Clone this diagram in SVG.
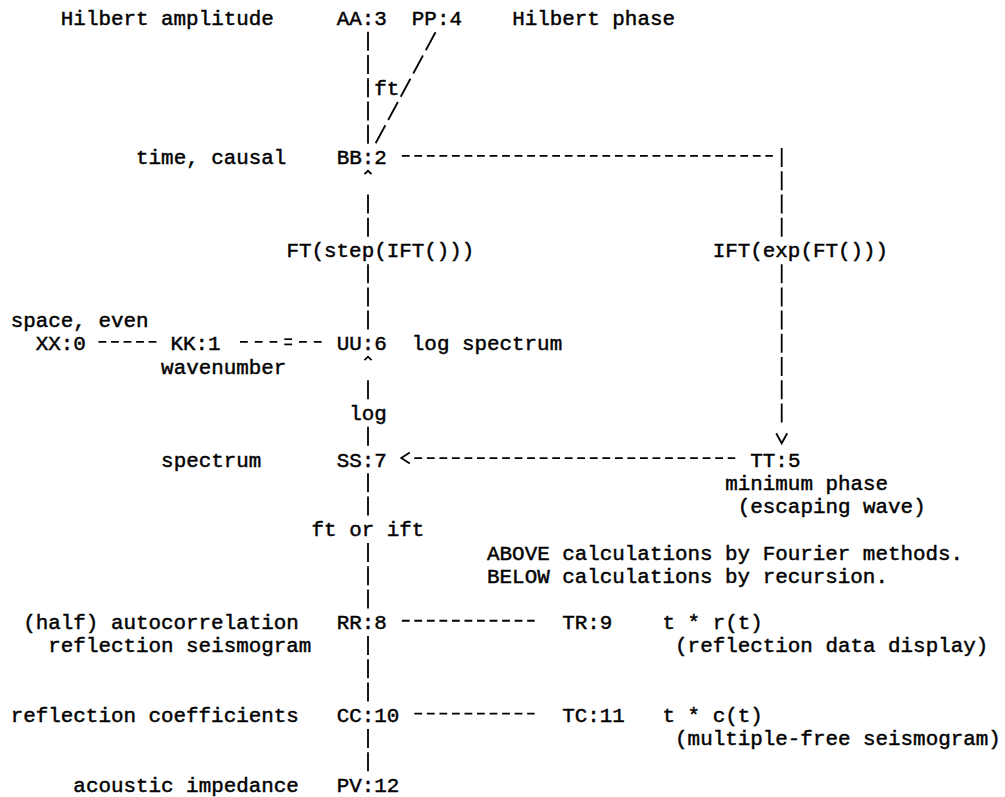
<svg xmlns="http://www.w3.org/2000/svg" width="1005" height="797" viewBox="0 0 1005 797">
<style>
text{font-family:"Liberation Mono","DejaVu Sans Mono",monospace;font-size:20.89px;fill:#000;stroke:#000;stroke-width:0.45}
.vd{stroke:#000;stroke-width:1.8;fill:none;stroke-dasharray:19 4.24}
.hd{stroke:#000;stroke-width:1.8;fill:none;stroke-dasharray:7.8 4.736}
.hw{stroke:#000;stroke-width:1.8;fill:none;stroke-dasharray:7.8 6.96}
.sl{stroke:#000;stroke-width:1.8;fill:none;stroke-dasharray:20.45 5.955}
.ah{stroke:#000;stroke-width:1.8;fill:none;stroke-linejoin:miter}
.eq{stroke:#000;stroke-width:1.7;fill:none}
</style>
<rect width="1005" height="797" fill="#fff"/>
<g id="connectors">
<line class="vd" x1="368" y1="31.74" x2="368" y2="143.7"/>
<line class="sl" x1="435.5" y1="32.24" x2="375.65" y2="143.2"/>
<text x="374.24" y="94.72">ft</text>
<line class="hd" x1="401.81" y1="155.94" x2="772.85" y2="155.94"/>
<line class="vd" x1="781.7" y1="147.94" x2="781.7" y2="236.66"/>
<text x="712.71" y="257.4">IFT(exp(FT()))</text>
<line class="vd" x1="781.7" y1="264.14" x2="781.7" y2="422.58"/>
<polyline class="ah" points="776.2,433.3 781.7,443.3 787.2,433.3"/>
<polyline class="ah" points="364.5,174.2 368,170.8 371.5,174.2"/>
<line class="vd" x1="368" y1="194.42" x2="368" y2="236.66"/>
<text x="286.48" y="257.4">FT(step(IFT()))</text>
<line class="vd" x1="368" y1="264.14" x2="368" y2="329.62"/>
<line class="hd" x1="98.5" y1="341.86" x2="156.5" y2="341.86"/>
<line class="hw" x1="240" y1="341.86" x2="277.32" y2="341.86"/>
<line class="eq" x1="284.3" y1="339.2" x2="292.1" y2="339.2"/>
<line class="eq" x1="284.3" y1="344.4" x2="292.1" y2="344.4"/>
<line class="hw" x1="299.04" y1="341.86" x2="321.6" y2="341.86"/>
<polyline class="ah" points="364.5,360.1 368,356.7 371.5,360.1"/>
<line class="vd" x1="368" y1="380.34" x2="368" y2="399.34"/>
<text x="349.16" y="420.08">log</text>
<line class="vd" x1="368" y1="426.82" x2="368" y2="445.82"/>
<polyline class="ah" points="409.8,452.56 401.3,458.06 409.8,463.56"/>
<line class="hd" x1="414.34" y1="458.06" x2="735.24" y2="458.06"/>
<line class="vd" x1="368" y1="473.3" x2="368" y2="515.54"/>
<text x="311.56" y="536.28">ft or ift</text>
<line class="vd" x1="368" y1="543.02" x2="368" y2="608.5"/>
<line class="hd" x1="401.81" y1="620.74" x2="534.67" y2="620.74"/>
<line class="vd" x1="368" y1="635.98" x2="368" y2="701.46"/>
<line class="hd" x1="414.34" y1="713.7" x2="534.67" y2="713.7"/>
<line class="vd" x1="368" y1="728.94" x2="368" y2="771.18"/>
</g>
<g id="node-AA"><text x="60.84" y="25">Hilbert amplitude</text><text x="336.63" y="25">AA:3</text></g>
<g id="node-PP"><text x="411.84" y="25">PP:4</text><text x="512.13" y="25">Hilbert phase</text></g>
<g id="node-BB"><text x="136.05" y="164.44">time, causal</text><text x="336.63" y="164.44">BB:2</text></g>
<g id="node-XX"><text x="10.69" y="327.12">space, even</text><text x="35.76" y="350.36">XX:0</text></g>
<g id="node-KK"><text x="170.5" y="350.36">KK:1</text><text x="161.12" y="373.6">wavenumber</text></g>
<g id="node-UU"><text x="336.63" y="350.36">UU:6</text><text x="411.84" y="350.36">log spectrum</text></g>
<g id="node-SS"><text x="161.12" y="466.56">spectrum</text><text x="336.63" y="466.56">SS:7</text></g>
<g id="node-TT"><text x="750.32" y="466.56">TT:5</text><text x="725.24" y="489.8">minimum phase</text><text x="737.78" y="513.04">(escaping wave)</text></g>
<g id="note"><text x="487.06" y="559.52">ABOVE calculations by Fourier methods.</text><text x="487.06" y="582.76">BELOW calculations by recursion.</text></g>
<g id="node-RR"><text x="23.23" y="629.24">(half) autocorrelation</text><text x="48.3" y="652.48">reflection seismogram</text><text x="336.63" y="629.24">RR:8</text></g>
<g id="node-TR"><text x="562.28" y="629.24">TR:9</text><text x="662.56" y="629.24">t * r(t)</text><text x="675.1" y="652.48">(reflection data display)</text></g>
<g id="node-CC"><text x="10.69" y="722.2">reflection coefficients</text><text x="336.63" y="722.2">CC:10</text></g>
<g id="node-TC"><text x="562.28" y="722.2">TC:11</text><text x="662.56" y="722.2">t * c(t)</text><text x="675.1" y="745.44">(multiple-free seismogram)</text></g>
<g id="node-PV"><text x="73.37" y="791.92">acoustic impedance</text><text x="336.63" y="791.92">PV:12</text></g>
</svg>
